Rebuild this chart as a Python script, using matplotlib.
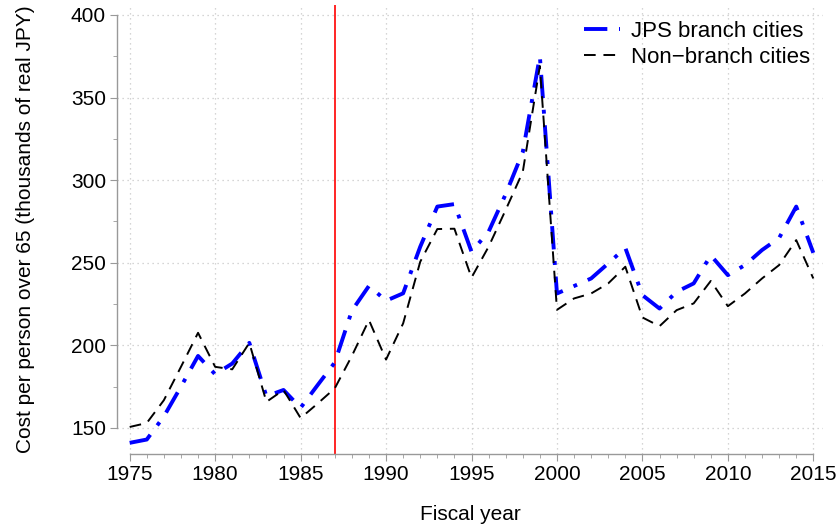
import matplotlib
matplotlib.use("Agg")
import matplotlib.pyplot as plt
from matplotlib.ticker import MultipleLocator

plt.rcParams['font.family'] = ['Liberation Sans', 'DejaVu Sans']

years = list(range(1975, 2016))
jps_branch = [141, 143, 157, 175, 193.6, 182.5, 189, 201.5, 169.2, 173, 162.2, 176, 189.6,
              221, 236, 227, 231.5, 259.7, 284, 285.5, 256.7, 268.8, 291.5, 317, 375,
              231.4, 235.9, 240.5, 249.6, 259, 230.4, 222.3, 232.4, 237.5, 254.5, 242.5,
              248.6, 257.7, 265, 284, 256]
non_branch = [150.6, 153, 166.8, 187, 207.6, 187, 185.5, 201.5, 165.8, 173, 156, 164.8, 174,
              193.6, 215.3, 191.4, 213.3, 250.6, 270.4, 270.6, 241, 259.7, 282, 305, 369,
              221.5, 228.4, 231.4, 237.5, 247.6, 216.9, 211.6, 221.3, 225.4, 239, 223.7,
              231.4, 240.5, 248.6, 263.7, 240.5]
event_year = 1987
labels = ["JPS branch cities", "Non\u2212branch cities"]

fig = plt.figure(figsize=(8.39, 5.29), dpi=100)
ax = fig.add_axes([0.1395, 0.1418, 0.8415, 0.8487])

ax.plot(years, jps_branch, color='blue', lw=2.8, dashes=(6, 3, 1, 3), label=labels[0], zorder=3)
ax.plot(years, non_branch, color='black', lw=1.4, dashes=(6, 4), label=labels[1], zorder=3)
ax.axvline(event_year, color='red', lw=1.2, zorder=2)

ax.set_xlim(1974.26, 2015.57)
ax.set_ylim(134.25, 406)
ax.xaxis.set_major_locator(MultipleLocator(5))
ax.xaxis.set_minor_locator(MultipleLocator(1))
ax.yaxis.set_major_locator(MultipleLocator(50))
ax.yaxis.set_minor_locator(MultipleLocator(25))

ax.grid(True, which='major', color='#c8c8c8', linestyle=(0, (1, 3)), lw=0.9)
for s in ['top', 'right']:
    ax.spines[s].set_visible(False)
ax.spines['left'].set_bounds(150, 400)
ax.spines['bottom'].set_bounds(1975, 2015)
for s in ['left', 'bottom']:
    ax.spines[s].set_color('#999999')
    ax.spines[s].set_linewidth(1.0)
ax.tick_params(which='major', length=5, color='#999999', labelsize=15, labelcolor='black', pad=3)
ax.tick_params(which='minor', length=3, color='#999999')

ax.set_xlabel("Fiscal year", fontsize=15, labelpad=15)
ax.set_ylabel("Cost per person over 65 (thousands of real JPY)", fontsize=15, labelpad=26)

leg = ax.legend(loc='upper right', frameon=False, fontsize=16, handlelength=1.6,
                handletextpad=0.5, borderaxespad=0.0, labelspacing=0.25,
                bbox_to_anchor=(0.994, 0.985))

fig.savefig("out.png", dpi=100)
